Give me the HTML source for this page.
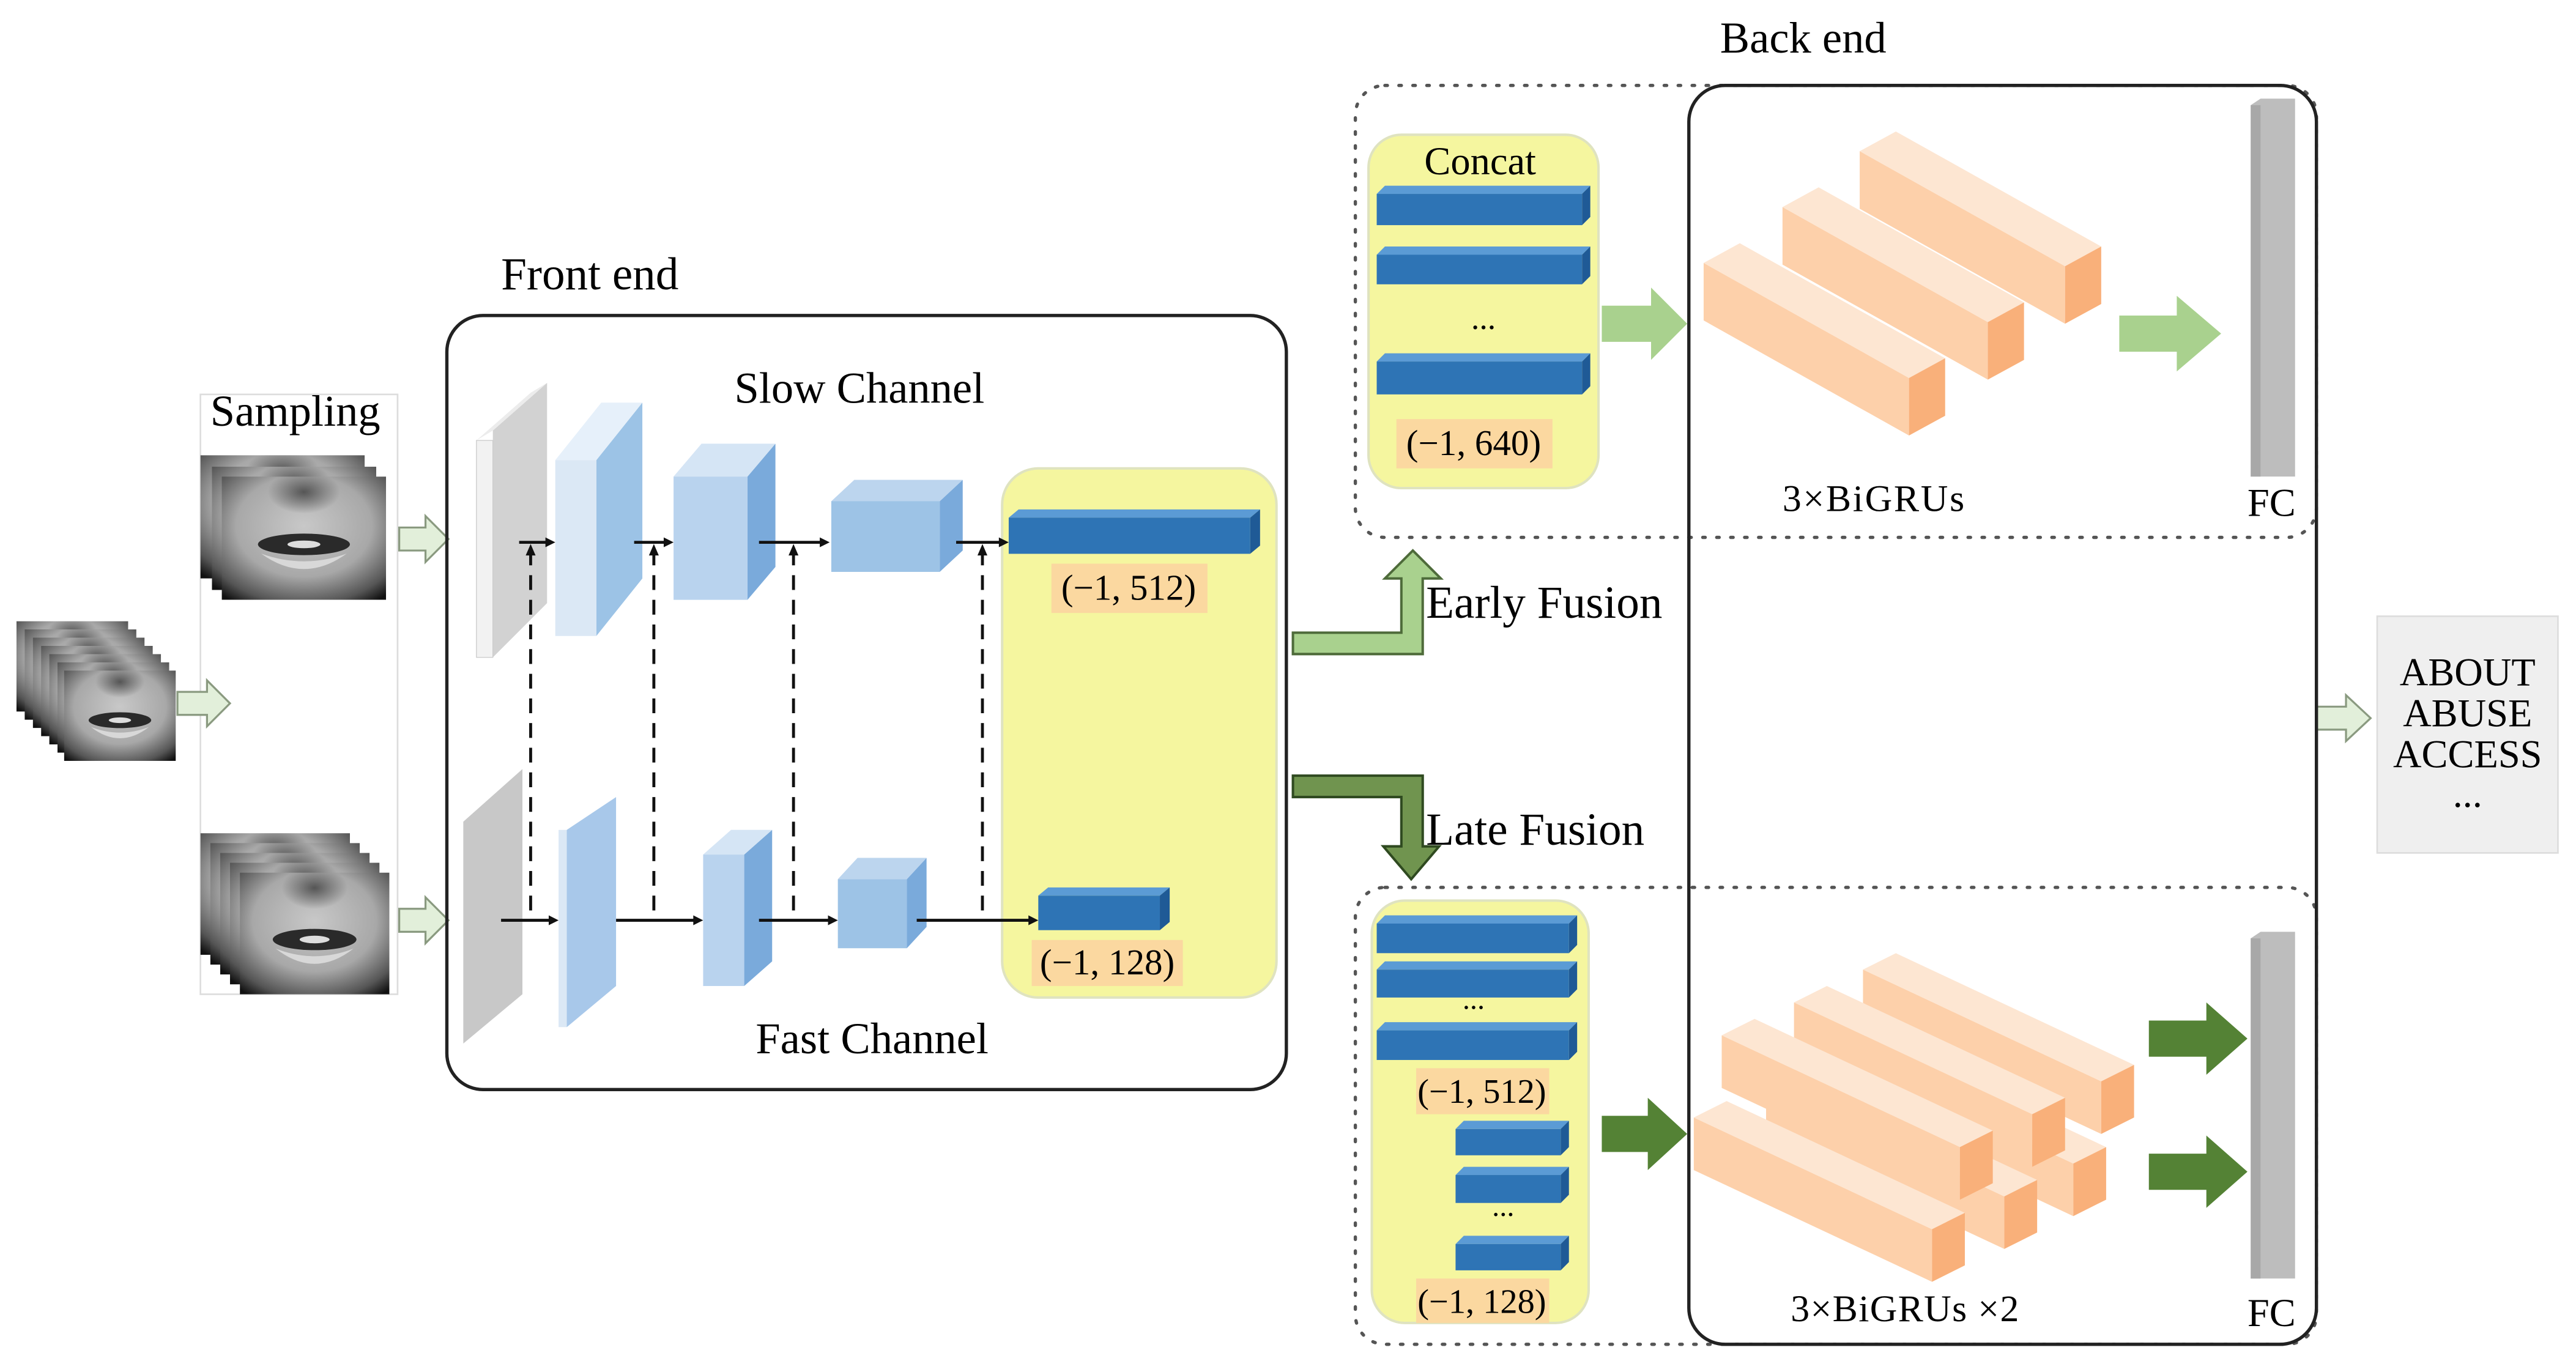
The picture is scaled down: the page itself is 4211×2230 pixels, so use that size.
<!DOCTYPE html>
<html><head><meta charset="utf-8"><style>html,body{margin:0;padding:0;background:#fff}svg{display:block}</style></head><body>
<svg xmlns="http://www.w3.org/2000/svg" width="4211" height="2230" viewBox="0 0 1568 830" preserveAspectRatio="none" font-family="Liberation Serif, serif">
<defs>
<radialGradient id="fg" cx="0.5" cy="0.4" r="0.75"><stop offset="0" stop-color="#c8c8c8"/><stop offset="0.55" stop-color="#a8a8a8"/><stop offset="0.85" stop-color="#555"/><stop offset="1" stop-color="#111"/></radialGradient>
<radialGradient id="ng" cx="0.5" cy="0.5" r="0.5"><stop offset="0" stop-color="#555"/><stop offset="1" stop-color="#555" stop-opacity="0"/></radialGradient>
<symbol id="face" viewBox="0 0 100 80" preserveAspectRatio="none">
<rect width="100" height="80" fill="url(#fg)"/>
<ellipse cx="50" cy="10" rx="22" ry="14" fill="url(#ng)"/>
<ellipse cx="50" cy="44" rx="28" ry="7" fill="#2a2a2a"/>
<ellipse cx="50" cy="44" rx="10" ry="2.5" fill="#ddd"/>
<path d="M24 50 Q50 70 76 50 Q50 60 24 50Z" fill="#d8d8d8"/>
</symbol>
</defs>
<rect width="1568" height="830" fill="#fff"/>

<!-- Sampling -->
<rect x="122" y="240" width="120" height="365" fill="none" stroke="#ddd" stroke-width="1"/>
<text x="128" y="259" font-size="27">Sampling</text>
<use href="#face" x="122" y="277" width="100" height="75"/>
<use href="#face" x="129" y="284" width="100" height="75"/>
<use href="#face" x="135" y="290" width="100" height="75"/>
<use href="#face" x="122" y="507" width="91" height="74"/>
<use href="#face" x="128" y="513" width="91" height="74"/>
<use href="#face" x="134" y="519" width="91" height="74"/>
<use href="#face" x="140" y="525" width="91" height="74"/>
<use href="#face" x="146" y="531" width="91" height="74"/>
<use href="#face" x="10" y="378" width="68" height="55"/>
<use href="#face" x="15" y="383" width="68" height="55"/>
<use href="#face" x="20" y="388" width="68" height="55"/>
<use href="#face" x="25" y="393" width="68" height="55"/>
<use href="#face" x="30" y="398" width="68" height="55"/>
<use href="#face" x="35" y="403" width="68" height="55"/>
<use href="#face" x="39" y="408" width="68" height="55"/>

<g fill="#e2efda" stroke="#8a9a80" stroke-width="1.2">
<polygon points="108,421 126,421 126,414 140,428 126,442 126,435 108,435"/>
<polygon points="243,321 259,321 259,314 273,328 259,342 259,335 243,335"/>
<polygon points="243,553 259,553 259,546 273,560 259,574 259,567 243,567"/>
<polygon points="1410,430 1428,430 1428,423 1443,437 1428,451 1428,444 1410,444"/>
</g>

<!-- Front end -->
<text x="305" y="176" font-size="28">Front end</text>
<rect x="272" y="192" width="511" height="471" rx="22" fill="none" stroke="#222" stroke-width="2"/>
<text x="447" y="245" font-size="27">Slow Channel</text>
<text x="460" y="641" font-size="27">Fast Channel</text>

<!-- slow layers -->
<polygon points="300,262 333,233 333,367 300,400" fill="#d2d2d2"/>
<polygon points="290,268 300,262 333,233 323,239" fill="#ececec"/>
<rect x="290" y="268" width="10" height="132" fill="#f2f2f2" stroke="#ccc" stroke-width="0.5"/>
<polygon points="363,280 391,245 391,352 363,387" fill="#9cc3e6"/>
<polygon points="338,280 363,280 391,245 366,245" fill="#e6f0fa"/>
<rect x="338" y="280" width="25" height="107" fill="#dbe8f5"/>
<polygon points="455,290 472,270 472,345 455,365" fill="#7aaadb"/>
<polygon points="410,290 455,290 472,270 427,270" fill="#d5e5f5"/>
<rect x="410" y="290" width="45" height="75" fill="#b9d3ee"/>
<polygon points="572,305 586,292 586,335 572,348" fill="#7aaadb"/>
<polygon points="506,305 572,305 586,292 520,292" fill="#bcd5ee"/>
<rect x="506" y="305" width="66" height="43" fill="#9dc3e6"/>

<!-- fast layers -->
<polygon points="282,500 318,468 318,605 282,635" fill="#c8c8c8"/>
<polygon points="345,505 375,485 375,600 345,625" fill="#a8c8ea"/>
<rect x="340" y="505" width="5" height="120" fill="#dbe8f5"/>
<polygon points="453,520 470,505 470,585 453,600" fill="#7aaadb"/>
<polygon points="428,520 453,520 470,505 445,505" fill="#d5e5f5"/>
<rect x="428" y="520" width="25" height="80" fill="#b9d3ee"/>
<polygon points="552,535 564,522 564,564 552,577" fill="#7aaadb"/>
<polygon points="510,535 552,535 564,522 522,522" fill="#bcd5ee"/>
<rect x="510" y="535" width="42" height="42" fill="#9dc3e6"/>

<!-- yellow panel -->
<rect x="610" y="285" width="167" height="322" rx="22" fill="#f5f69f" stroke="#dfe3c0" stroke-width="1.5"/>
<polygon points="614,315 620,310 767,310 761,315" fill="#5b9bd5"/>
<polygon points="761,315 767,310 767,332 761,337" fill="#1f5a96"/>
<rect x="614" y="315" width="147" height="22" fill="#2e74b5"/>
<rect x="640" y="343" width="95" height="30" fill="#fbd8a0"/>
<text x="687" y="365" font-size="22" text-anchor="middle">(−1, 512)</text>
<polygon points="632,545 638,540 712,540 706,545" fill="#5b9bd5"/>
<polygon points="706,545 712,540 712,561 706,566" fill="#1f5a96"/>
<rect x="632" y="545" width="74" height="21" fill="#2e74b5"/>
<rect x="628" y="572" width="92" height="28" fill="#fbd8a0"/>
<text x="674" y="593" font-size="22" text-anchor="middle">(−1, 128)</text>

<!-- dashed + arrows -->
<g stroke="#111" stroke-width="1.8" stroke-dasharray="9,6" fill="none">
<line x1="323" y1="335" x2="323" y2="560"/><line x1="398" y1="335" x2="398" y2="560"/>
<line x1="483" y1="335" x2="483" y2="560"/><line x1="598" y1="335" x2="598" y2="560"/>
</g>
<g stroke="#111" stroke-width="1.8">
<line x1="316" y1="330" x2="334" y2="330"/><line x1="386" y1="330" x2="406" y2="330"/>
<line x1="462" y1="330" x2="501" y2="330"/><line x1="582" y1="330" x2="610" y2="330"/>
<line x1="305" y1="560" x2="336" y2="560"/><line x1="375" y1="560" x2="424" y2="560"/>
<line x1="462" y1="560" x2="506" y2="560"/><line x1="558" y1="560" x2="628" y2="560"/>
</g>
<g fill="#111">
<polygon points="338,330 332,327 332,333"/><polygon points="410,330 404,327 404,333"/><polygon points="505,330 499,327 499,333"/><polygon points="614,330 608,327 608,333"/>
<polygon points="340,560 334,557 334,563"/><polygon points="428,560 422,557 422,563"/><polygon points="510,560 504,557 504,563"/><polygon points="632,560 626,557 626,563"/>
<polygon points="323,331 320,338 326,338"/><polygon points="398,331 395,338 401,338"/><polygon points="483,331 480,338 486,338"/><polygon points="598,331 595,338 601,338"/>
</g>

<!-- fusion arrows -->
<polygon points="787,385 853,385 853,352 843,352 860,335 877,352 866,352 866,398 787,398" fill="#a9d18e" stroke="#4e6b3a" stroke-width="1.5"/>
<text x="868" y="376" font-size="28">Early Fusion</text>
<polygon points="787,472 866,472 866,515 876,515 859,535 842,515 853,515 853,485 787,485" fill="#70944f" stroke="#2f4a20" stroke-width="1.5"/>
<text x="868" y="514" font-size="28">Late Fusion</text>

<!-- Back end -->
<text x="1047" y="32" font-size="27">Back end</text>
<rect x="825" y="52" width="585" height="275" rx="18" fill="none" stroke="#555" stroke-width="2" stroke-dasharray="1.5,7" stroke-linecap="round"/>
<rect x="825" y="540" width="585" height="278" rx="18" fill="none" stroke="#555" stroke-width="2" stroke-dasharray="1.5,7" stroke-linecap="round"/>
<rect x="1028" y="52" width="382" height="766" rx="22" fill="none" stroke="#222" stroke-width="2"/>

<!-- concat -->
<rect x="833" y="82" width="140" height="215" rx="20" fill="#f5f69f" stroke="#dfe3c0" stroke-width="1.5"/>
<text x="901" y="106" font-size="24" text-anchor="middle">Concat</text>
<g>
<polygon points="838,118 843,113 968,113 963,118" fill="#5b9bd5"/><polygon points="963,118 968,113 968,132 963,137" fill="#1f5a96"/><rect x="838" y="118" width="125" height="19" fill="#2e74b5"/>
<polygon points="838,155 843,150 968,150 963,155" fill="#5b9bd5"/><polygon points="963,155 968,150 968,168 963,173" fill="#1f5a96"/><rect x="838" y="155" width="125" height="18" fill="#2e74b5"/>
<polygon points="838,220 843,215 968,215 963,220" fill="#5b9bd5"/><polygon points="963,220 968,215 968,235 963,240" fill="#1f5a96"/><rect x="838" y="220" width="125" height="20" fill="#2e74b5"/>
</g>
<text x="903" y="200" font-size="20" text-anchor="middle">...</text>
<rect x="850" y="255" width="95" height="30" fill="#fbd8a0"/>
<text x="897" y="277" font-size="22" text-anchor="middle">(−1, 640)</text>

<!-- top beams -->
<g>
<polygon points="1132,92 1257,162 1257,197 1132,127" fill="#fdd0aa"/><polygon points="1132,92 1154,80 1279,150 1257,162" fill="#fde6d2"/><polygon points="1257,162 1279,150 1279,185 1257,197" fill="#f9b07a"/>
<polygon points="1085,126 1210,196 1210,231 1085,161" fill="#fdd0aa"/><polygon points="1085,126 1107,114 1232,184 1210,196" fill="#fde6d2"/><polygon points="1210,196 1232,184 1232,219 1210,231" fill="#f9b07a"/>
<polygon points="1037,160 1162,230 1162,265 1037,195" fill="#fdd0aa"/><polygon points="1037,160 1059,148 1184,218 1162,230" fill="#fde6d2"/><polygon points="1162,230 1184,218 1184,253 1162,265" fill="#f9b07a"/>
</g>
<text x="1085" y="311" font-size="23" letter-spacing="1">3×BiGRUs</text>
<polygon points="975,186 1005,186 1005,175 1027,197 1005,219 1005,208 975,208" fill="#a9d18e"/>
<polygon points="1290,192 1325,192 1325,180 1352,203 1325,226 1325,214 1290,214" fill="#a9d18e"/>
<polygon points="1370,64 1376,60 1397,60 1397,290 1370,290" fill="#bdbdbd"/><rect x="1370" y="64" width="6" height="226" fill="#a8a8a8"/>
<text x="1368" y="314" font-size="24">FC</text>

<!-- late panel -->
<rect x="835" y="548" width="132" height="257" rx="20" fill="#f5f69f" stroke="#dfe3c0" stroke-width="1.5"/>
<g>
<polygon points="838,562 843,557 960,557 955,562" fill="#5b9bd5"/><polygon points="955,562 960,557 960,575 955,580" fill="#1f5a96"/><rect x="838" y="562" width="117" height="18" fill="#2e74b5"/>
<polygon points="838,590 843,585 960,585 955,590" fill="#5b9bd5"/><polygon points="955,590 960,585 960,602 955,607" fill="#1f5a96"/><rect x="838" y="590" width="117" height="17" fill="#2e74b5"/>
<polygon points="838,627 843,622 960,622 955,627" fill="#5b9bd5"/><polygon points="955,627 960,622 960,640 955,645" fill="#1f5a96"/><rect x="838" y="627" width="117" height="18" fill="#2e74b5"/>
<polygon points="886,687 891,682 955,682 950,687" fill="#5b9bd5"/><polygon points="950,687 955,682 955,698 950,703" fill="#1f5a96"/><rect x="886" y="687" width="64" height="16" fill="#2e74b5"/>
<polygon points="886,715 891,710 955,710 950,715" fill="#5b9bd5"/><polygon points="950,715 955,710 955,727 950,732" fill="#1f5a96"/><rect x="886" y="715" width="64" height="17" fill="#2e74b5"/>
<polygon points="886,757 891,752 955,752 950,757" fill="#5b9bd5"/><polygon points="950,757 955,752 955,768 950,773" fill="#1f5a96"/><rect x="886" y="757" width="64" height="16" fill="#2e74b5"/>
</g>
<text x="897" y="614" font-size="18" text-anchor="middle">...</text>
<text x="915" y="740" font-size="18" text-anchor="middle">...</text>
<rect x="862" y="650" width="81" height="28" fill="#fbd8a0"/>
<text x="902" y="671" font-size="21" text-anchor="middle">(−1, 512)</text>
<rect x="862" y="778" width="81" height="27" fill="#fbd8a0"/>
<text x="902" y="799" font-size="21" text-anchor="middle">(−1, 128)</text>

<polygon points="975,679 1003,679 1003,668 1027,690 1003,712 1003,701 975,701" fill="#548235"/>
<polygon points="1308,621 1343,621 1343,610 1368,632 1343,654 1343,643 1308,643" fill="#548235"/>
<polygon points="1308,702 1343,702 1343,691 1368,713 1343,735 1343,724 1308,724" fill="#548235"/>

<!-- bottom beams -->
<g>
<polygon points="1134,590 1279,658 1279,690 1134,622" fill="#fdd0aa"/><polygon points="1134,590 1154,580 1299,648 1279,658" fill="#fde6d2"/><polygon points="1279,658 1299,648 1299,680 1279,690" fill="#f9b07a"/>
<polygon points="1117,640 1262,708 1262,740 1117,672" fill="#fdd0aa"/><polygon points="1117,640 1137,630 1282,698 1262,708" fill="#fde6d2"/><polygon points="1262,708 1282,698 1282,730 1262,740" fill="#f9b07a"/>
<polygon points="1092,610 1237,678 1237,710 1092,642" fill="#fdd0aa"/><polygon points="1092,610 1112,600 1257,668 1237,678" fill="#fde6d2"/><polygon points="1237,678 1257,668 1257,700 1237,710" fill="#f9b07a"/>
<polygon points="1075,660 1220,728 1220,760 1075,692" fill="#fdd0aa"/><polygon points="1075,660 1095,650 1240,718 1220,728" fill="#fde6d2"/><polygon points="1220,728 1240,718 1240,750 1220,760" fill="#f9b07a"/>
<polygon points="1048,630 1193,698 1193,730 1048,662" fill="#fdd0aa"/><polygon points="1048,630 1068,620 1213,688 1193,698" fill="#fde6d2"/><polygon points="1193,698 1213,688 1213,720 1193,730" fill="#f9b07a"/>
<polygon points="1031,680 1176,748 1176,780 1031,712" fill="#fdd0aa"/><polygon points="1031,680 1051,670 1196,738 1176,748" fill="#fde6d2"/><polygon points="1176,748 1196,738 1196,770 1176,780" fill="#f9b07a"/>
</g>
<text x="1090" y="804" font-size="23" letter-spacing="0.5">3×BiGRUs ×2</text>
<polygon points="1370,571 1376,567 1397,567 1397,778 1370,778" fill="#bdbdbd"/><rect x="1370" y="571" width="6" height="207" fill="#a8a8a8"/>
<text x="1368" y="807" font-size="24">FC</text>

<!-- output -->
<rect x="1447" y="375" width="110" height="144" fill="#efefef" stroke="#ddd" stroke-width="1"/>
<g font-size="24" text-anchor="middle">
<text x="1502" y="417">ABOUT</text><text x="1502" y="442">ABUSE</text><text x="1502" y="467">ACCESS</text><text x="1502" y="491">...</text>
</g>
</svg>
</body></html>
